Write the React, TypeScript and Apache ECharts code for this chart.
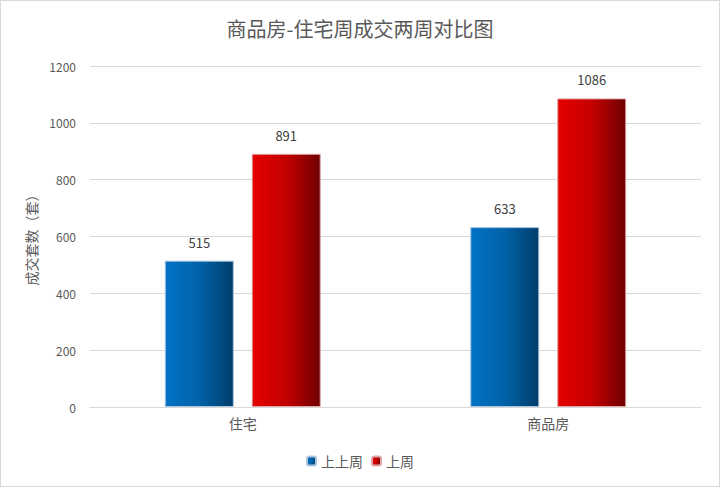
import React, { useEffect, useRef } from "react";
import * as echarts from "echarts";

const categories = ["住宅", "商品房"];
const prevPrevWeek = [515, 633];
const prevWeek = [891, 1086];
const seriesNames = ["上上周", "上周"];
const yTicks = { min: 0, max: 1200, interval: 200 };

export default function App() {
  const ref = useRef<HTMLDivElement>(null);
  useEffect(() => {
    document.body.style.margin = "0";
    const chart = echarts.init(ref.current!, null, { renderer: "svg" });
    const font = "'Microsoft YaHei', 'Noto Sans CJK SC', sans-serif";
    chart.setOption({
      animation: false,
      backgroundColor: "#ffffff",
      title: {
        text: "商品房-住宅周成交两周对比图",
        left: "center",
        top: 12,
        textStyle: { fontSize: 20, fontWeight: "normal", color: "#595959", fontFamily: font },
      },
      legend: {
        bottom: 13,
        left: "center",
        itemWidth: 9,
        itemHeight: 9,
        itemGap: 8,
        textStyle: { fontSize: 14, color: "#595959", fontFamily: font },
        data: seriesNames,
      },
      grid: { left: 89, right: 18, top: 65, bottom: 79 },
      xAxis: {
        type: "category",
        data: categories,
        axisLine: { lineStyle: { color: "#d9d9d9" } },
        axisTick: { show: false },
        axisLabel: { fontSize: 14, color: "#595959", margin: 9, fontFamily: font },
      },
      yAxis: {
        type: "value",
        min: yTicks.min,
        max: yTicks.max,
        interval: yTicks.interval,
        name: "成交套数（套）",
        nameLocation: "middle",
        nameRotate: 90,
        nameGap: 52,
        nameTextStyle: { fontSize: 14, color: "#595959", fontFamily: font },
        axisLine: { show: false },
        axisTick: { show: false },
        axisLabel: {
          fontSize: 12,
          color: "#595959",
          margin: 14,
          fontFamily: font,
          formatter: (v: number) => String(v),
        },
        splitLine: { lineStyle: { color: "#d9d9d9" } },
      },
      series: [
        {
          name: seriesNames[0],
          type: "bar",
          data: prevPrevWeek,
          barWidth: 69,
          barGap: "26%",
          itemStyle: {
            color: new echarts.graphic.LinearGradient(0, 0, 1, 0, [
              { offset: 0, color: "#0073c6" },
              { offset: 0.5, color: "#0062a8" },
              { offset: 1, color: "#003d6a" },
            ]),
            borderColor: "#a9c4de",
            borderWidth: 1,
          },
          label: { show: true, position: "top", distance: 12, fontSize: 13, color: "#404040", fontFamily: font },
        },
        {
          name: seriesNames[1],
          type: "bar",
          data: prevWeek,
          barWidth: 69,
          barGap: "26%",
          itemStyle: {
            color: new echarts.graphic.LinearGradient(0, 0, 1, 0, [
              { offset: 0, color: "#e60000" },
              { offset: 0.5, color: "#c40000" },
              { offset: 1, color: "#6e0000" },
            ]),
            borderColor: "#e0a8a8",
            borderWidth: 1,
          },
          label: { show: true, position: "top", distance: 12, fontSize: 13, color: "#404040", fontFamily: font },
        },
      ],
    });
    return () => chart.dispose();
  }, []);
  return (
    <div
      style={{
        width: 720,
        height: 487,
        boxSizing: "border-box",
        border: "1px solid #d9d9d9",
        position: "relative",
      }}
    >
      <div ref={ref} style={{ width: 718, height: 485 }} />
    </div>
  );
}
